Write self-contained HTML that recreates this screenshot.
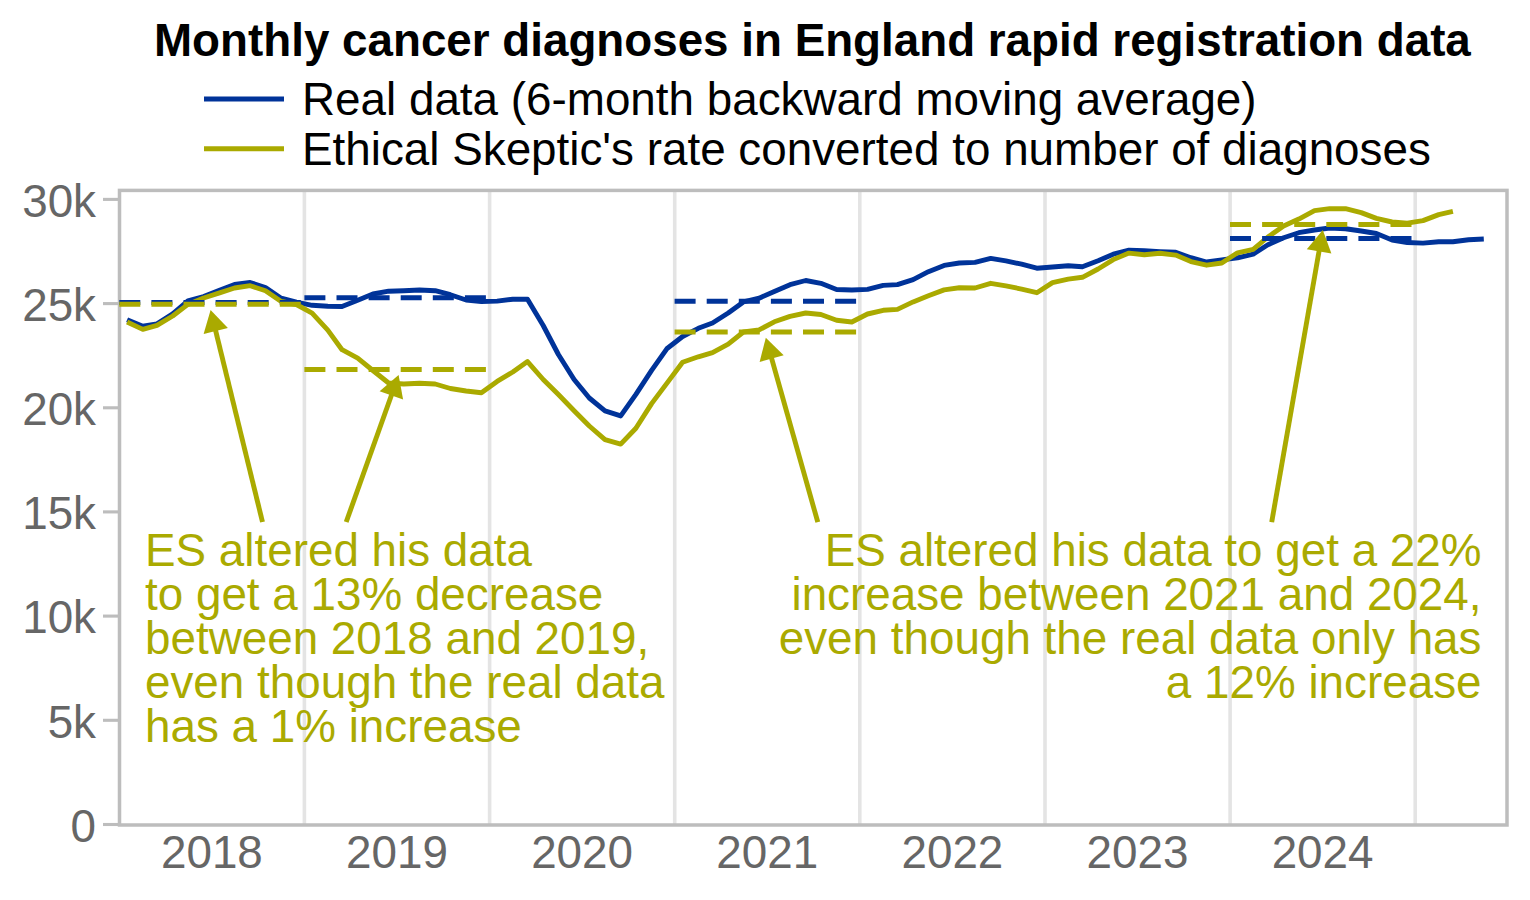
<!DOCTYPE html>
<html><head><meta charset="utf-8"><style>
html,body{margin:0;padding:0;background:#fff;width:1530px;height:900px;overflow:hidden}
svg{display:block}
text{font-family:"Liberation Sans",sans-serif}
.ax{font-size:45.8px;fill:#666666}
.ann{font-size:45.8px;fill:#aaaa00}
.title{font-size:45.75px;font-weight:bold;fill:#000}
.leg{font-size:45.8px;fill:#000}
</style></head><body>
<svg width="1530" height="900" viewBox="0 0 1530 900">
<rect width="1530" height="900" fill="#fff"/>
<line x1="304.4" y1="190" x2="304.4" y2="824.5" stroke="#e4e4e4" stroke-width="3.6"/>
<line x1="489.6" y1="190" x2="489.6" y2="824.5" stroke="#e4e4e4" stroke-width="3.6"/>
<line x1="674.7" y1="190" x2="674.7" y2="824.5" stroke="#e4e4e4" stroke-width="3.6"/>
<line x1="859.8" y1="190" x2="859.8" y2="824.5" stroke="#e4e4e4" stroke-width="3.6"/>
<line x1="1045.0" y1="190" x2="1045.0" y2="824.5" stroke="#e4e4e4" stroke-width="3.6"/>
<line x1="1230.1" y1="190" x2="1230.1" y2="824.5" stroke="#e4e4e4" stroke-width="3.6"/>
<line x1="1415.2" y1="190" x2="1415.2" y2="824.5" stroke="#e4e4e4" stroke-width="3.6"/>
<line x1="103" y1="824.5" x2="119.3" y2="824.5" stroke="#bdbdbd" stroke-width="3.1"/>
<text x="96.0" y="841.7" text-anchor="end" class="ax">0</text>
<line x1="103" y1="720.3" x2="119.3" y2="720.3" stroke="#bdbdbd" stroke-width="3.1"/>
<text x="96.0" y="737.5" text-anchor="end" class="ax">5k</text>
<line x1="103" y1="616.1" x2="119.3" y2="616.1" stroke="#bdbdbd" stroke-width="3.1"/>
<text x="96.0" y="633.3" text-anchor="end" class="ax">10k</text>
<line x1="103" y1="511.9" x2="119.3" y2="511.9" stroke="#bdbdbd" stroke-width="3.1"/>
<text x="96.0" y="529.1" text-anchor="end" class="ax">15k</text>
<line x1="103" y1="407.8" x2="119.3" y2="407.8" stroke="#bdbdbd" stroke-width="3.1"/>
<text x="96.0" y="425.0" text-anchor="end" class="ax">20k</text>
<line x1="103" y1="303.6" x2="119.3" y2="303.6" stroke="#bdbdbd" stroke-width="3.1"/>
<text x="96.0" y="320.8" text-anchor="end" class="ax">25k</text>
<line x1="103" y1="199.4" x2="119.3" y2="199.4" stroke="#bdbdbd" stroke-width="3.1"/>
<text x="96.0" y="216.6" text-anchor="end" class="ax">30k</text>
<text x="211.9" y="867.9" text-anchor="middle" class="ax">2018</text>
<text x="397.0" y="867.9" text-anchor="middle" class="ax">2019</text>
<text x="582.1" y="867.9" text-anchor="middle" class="ax">2020</text>
<text x="767.3" y="867.9" text-anchor="middle" class="ax">2021</text>
<text x="952.4" y="867.9" text-anchor="middle" class="ax">2022</text>
<text x="1137.5" y="867.9" text-anchor="middle" class="ax">2023</text>
<text x="1322.6" y="867.9" text-anchor="middle" class="ax">2024</text>
<rect x="119.5" y="190.4" width="1387.5" height="634.6" fill="none" stroke="#bdbdbd" stroke-width="3.5"/>
<polyline points="127.1,319.7 142.8,326.2 157.0,323.8 172.7,313.9 187.9,300.9 203.6,296.5 218.8,290.5 234.5,284.5 250.2,282.5 265.5,287.6 281.2,298.2 296.4,302.2 312.1,305.3 327.8,306.2 342.0,306.5 357.7,300.2 372.9,294.0 388.6,291.2 403.8,290.7 419.5,290.0 435.2,290.7 450.4,294.7 466.1,300.0 481.4,301.5 497.1,301.1 512.8,299.2 527.5,299.2 543.2,325.5 558.4,354.5 574.1,379.5 589.3,398.0 605.0,410.9 620.7,415.9 635.9,394.3 651.6,370.4 666.8,348.8 682.6,336.5 698.3,328.3 712.5,323.0 728.2,313.0 743.4,301.9 759.1,298.2 774.3,291.5 790.0,284.7 805.7,280.5 820.9,283.3 836.6,289.5 851.8,290.0 867.5,289.4 883.2,285.4 897.4,284.6 913.1,279.7 928.4,271.7 944.1,265.4 959.3,263.0 975.0,262.4 990.7,258.4 1005.9,260.9 1021.6,264.2 1036.8,268.2 1052.5,267.0 1068.2,265.7 1082.4,266.8 1098.1,260.7 1113.3,254.2 1129.0,250.2 1144.3,250.7 1160.0,251.6 1175.7,252.3 1190.9,257.7 1206.6,262.0 1221.8,259.9 1237.5,257.8 1253.2,254.1 1267.9,244.8 1283.6,237.8 1298.8,232.7 1314.5,230.0 1329.7,228.0 1345.5,228.8 1361.2,231.0 1376.4,233.5 1392.1,240.0 1407.3,242.5 1423.0,243.1 1438.7,241.7 1452.9,241.7 1468.6,239.8 1483.8,239.0" fill="none" stroke="#003399" stroke-width="4.9" stroke-linejoin="round" stroke-linecap="butt"/>
<polyline points="127.1,322.0 142.8,329.4 157.0,325.4 172.7,316.0 187.9,304.4 203.6,298.0 218.8,293.1 234.5,288.0 250.2,285.7 265.5,290.8 281.2,301.5 296.4,304.5 312.1,313.2 327.8,330.1 342.0,349.7 357.7,358.2 372.9,370.5 388.6,383.0 403.8,384.0 419.5,383.3 435.2,384.0 450.4,388.5 466.1,391.0 481.4,392.7 497.1,381.4 512.8,372.0 527.5,361.6 543.2,379.5 558.4,394.6 574.1,410.7 589.3,426.0 605.0,439.7 620.7,444.1 635.9,428.2 651.6,403.6 666.8,383.4 682.6,362.2 698.3,356.8 712.5,352.6 728.2,344.2 743.4,332.0 759.1,329.9 774.3,321.8 790.0,316.4 805.7,313.0 820.9,314.5 836.6,320.2 851.8,322.0 867.5,314.0 883.2,310.3 897.4,309.4 913.1,301.9 928.4,295.7 944.1,289.9 959.3,287.8 975.0,288.0 990.7,283.3 1005.9,285.8 1021.6,289.1 1036.8,292.7 1052.5,282.6 1068.2,279.1 1082.4,277.3 1098.1,269.0 1113.3,259.6 1129.0,253.1 1144.3,254.8 1160.0,253.3 1175.7,255.1 1190.9,261.6 1206.6,265.2 1221.8,263.0 1237.5,252.8 1253.2,249.4 1267.9,237.0 1283.6,226.1 1298.8,219.1 1314.5,210.6 1329.7,208.6 1345.5,208.7 1361.2,212.6 1376.4,218.4 1392.1,222.0 1407.3,223.1 1423.0,220.6 1438.7,214.6 1452.9,211.3" fill="none" stroke="#aaaa00" stroke-width="4.9" stroke-linejoin="round" stroke-linecap="butt"/>
<line x1="119.3" y1="302.4" x2="304.4" y2="302.4" stroke="#003399" stroke-width="5.0" stroke-dasharray="21.0 11.1"/>
<line x1="119.3" y1="304.3" x2="304.4" y2="304.3" stroke="#aaaa00" stroke-width="5.0" stroke-dasharray="21.0 11.1"/>
<line x1="304.4" y1="297.8" x2="489.5" y2="297.8" stroke="#003399" stroke-width="5.0" stroke-dasharray="21.0 11.1"/>
<line x1="304.4" y1="369.5" x2="489.5" y2="369.5" stroke="#aaaa00" stroke-width="5.0" stroke-dasharray="21.0 11.1"/>
<line x1="674.6" y1="301.3" x2="859.7" y2="301.3" stroke="#003399" stroke-width="5.0" stroke-dasharray="21.0 11.1"/>
<line x1="674.6" y1="332.0" x2="859.7" y2="332.0" stroke="#aaaa00" stroke-width="5.0" stroke-dasharray="21.0 11.1"/>
<line x1="1230.0" y1="238.4" x2="1415.2" y2="238.4" stroke="#003399" stroke-width="5.0" stroke-dasharray="21.0 11.1"/>
<line x1="1230.0" y1="224.4" x2="1415.2" y2="224.4" stroke="#aaaa00" stroke-width="5.0" stroke-dasharray="21.0 11.1"/>
<line x1="262.5" y1="522.0" x2="215.5" y2="330.1" stroke="#aaaa00" stroke-width="4.9"/><polygon points="210.6,310.0 227.9,328.1 203.6,334.0" fill="#aaaa00"/>
<line x1="346.2" y1="522.0" x2="391.7" y2="394.5" stroke="#aaaa00" stroke-width="4.9"/><polygon points="398.6,375.0 403.1,399.6 379.6,391.2" fill="#aaaa00"/>
<line x1="817.8" y1="522.2" x2="771.4" y2="357.7" stroke="#aaaa00" stroke-width="4.9"/><polygon points="765.8,337.8 783.7,355.2 759.6,362.0" fill="#aaaa00"/>
<line x1="1271.7" y1="522.2" x2="1319.2" y2="250.3" stroke="#aaaa00" stroke-width="4.9"/><polygon points="1322.8,230.0 1331.4,253.5 1306.8,249.2" fill="#aaaa00"/>
<text x="145" y="565.8" class="ann">ES altered his data</text>
<text x="145" y="609.8" class="ann">to get a 13% decrease</text>
<text x="145" y="653.8" class="ann">between 2018 and 2019,</text>
<text x="145" y="697.8" class="ann">even though the real data</text>
<text x="145" y="741.8" class="ann">has a 1% increase</text>
<text x="1481.5" y="566.2" text-anchor="end" class="ann">ES altered his data to get a 22%</text>
<text x="1481.5" y="610.0" text-anchor="end" class="ann">increase between 2021 and 2024,</text>
<text x="1481.5" y="653.7" text-anchor="end" class="ann">even though the real data only has</text>
<text x="1481.5" y="697.5" text-anchor="end" class="ann">a 12% increase</text>
<text x="154" y="55.6" class="title">Monthly cancer diagnoses in England rapid registration data</text>
<line x1="204" y1="98.9" x2="284" y2="98.9" stroke="#003399" stroke-width="5"/>
<line x1="204" y1="148.7" x2="284" y2="148.7" stroke="#aaaa00" stroke-width="5"/>
<text x="302" y="115.4" class="leg">Real data (6-month backward moving average)</text>
<text x="302" y="165.1" class="leg">Ethical Skeptic&#39;s rate converted to number of diagnoses</text>
</svg>
</body></html>
